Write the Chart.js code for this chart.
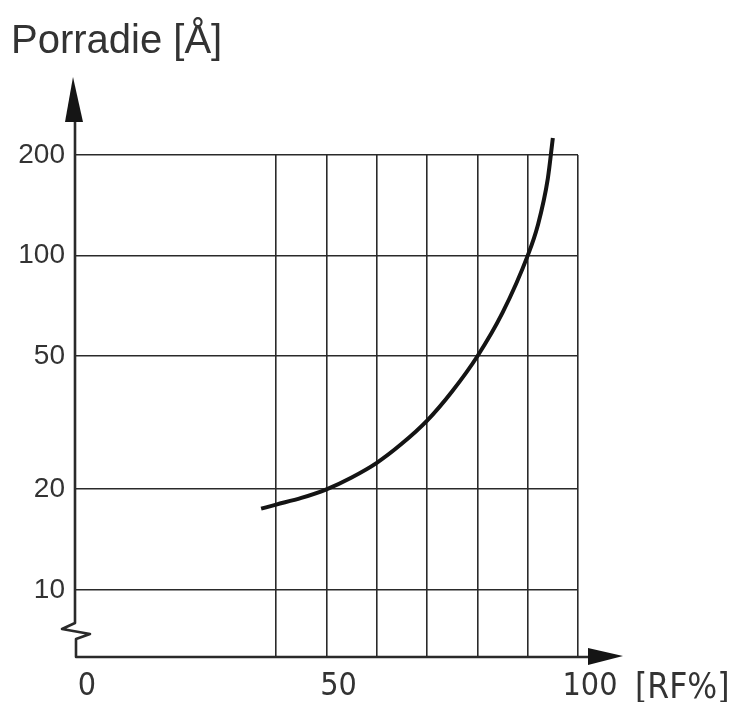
<!DOCTYPE html>
<html><head><meta charset="utf-8">
<script src="https://cdn.jsdelivr.net/npm/chart.js@4"></script>
<style>html,body{margin:0;padding:0;background:#fff}#wrap{width:735px;height:702px;position:relative}</style>
</head><body><div id="wrap"><canvas id="c"></canvas></div>
<script>
const rfPercent  = [37, 40, 45, 50, 55, 60, 65, 70, 75, 80, 85, 90, 92, 94, 95];
const poreRadius = [17.5, 18.0, 18.85, 20.0, 21.7, 24.0, 27.4, 32.1, 39.3, 50, 67.5, 100, 123, 170, 225];
const xGridValues = [0, 40, 50, 60, 70, 80, 90, 100];
const xLabelValues = [0, 50, 100];
const yTickValues = [10, 20, 50, 100, 200];
const yAxisTitle = 'Porradie [Å]';
const xAxisTitle = '[RF%]';

const INK = '#2a2a2a';
const NARROW = '"DejaVu Sans Condensed", "Liberation Sans Narrow", "Liberation Sans", sans-serif';

const decor = {
  id: 'decor',
  afterDraw(chart) {
    const {ctx, chartArea: a, scales: {x, y}} = chart;
    const x0 = x.getPixelForValue(0), y0 = a.bottom;
    ctx.save();
    ctx.strokeStyle = INK; ctx.fillStyle = '#151515'; ctx.lineCap = 'round'; ctx.lineJoin = 'round';
    ctx.lineWidth = 2.6;
    // y axis with break, then x axis
    ctx.beginPath(); ctx.moveTo(x0, 105); ctx.lineTo(x0, 623);
    ctx.lineTo(62, 629); ctx.lineTo(90, 634); ctx.lineTo(x0 + 1, 639); ctx.lineTo(x0 + 1, y0);
    ctx.lineTo(600, y0); ctx.stroke();
    // arrow heads
    ctx.beginPath(); ctx.moveTo(x0 - 2, 77); ctx.lineTo(x0 + 8, 122); ctx.lineTo(x0 - 10, 122); ctx.closePath(); ctx.fill();
    ctx.beginPath(); ctx.moveTo(623, y0 - 1); ctx.lineTo(588, y0 - 9); ctx.lineTo(588, y0 + 8); ctx.closePath(); ctx.fill();
    // titles
    ctx.fillStyle = '#333';
    ctx.textAlign = 'left'; ctx.textBaseline = 'alphabetic';
    ctx.font = '40px "Liberation Sans", sans-serif';
    ctx.fillText(yAxisTitle, 11, 53);
    ctx.font = '35px ' + NARROW;
    ctx.fillText(xAxisTitle, 635, 698);
    ctx.restore();
  }
};

new Chart(document.getElementById('c'), {
  type: 'line',
  data: {
    datasets: [{
      data: rfPercent.map((v, i) => ({x: v, y: poreRadius[i]})),
      borderColor: '#141414', borderWidth: 4, pointRadius: 0,
      cubicInterpolationMode: 'monotone', clip: false, fill: false
    }]
  },
  options: {
    responsive: true, maintainAspectRatio: false, animation: false,
    layout: {padding: {top: 155, right: 157, left: 0, bottom: 0}},
    plugins: {legend: {display: false}, tooltip: {enabled: false}, title: {display: false}},
    scales: {
      x: {
        type: 'linear', min: 0, max: 100,
        afterBuildTicks: s => { s.ticks = xGridValues.map(v => ({value: v})); },
        afterFit: s => { s.height = 45; },
        ticks: {
          autoSkip: false, maxRotation: 0, labelOffset: 12, padding: 10,
          color: '#333', font: {family: NARROW, size: 32},
          callback: v => xLabelValues.includes(v) ? String(v) : ''
        },
        grid: {color: c => (c.tick && c.tick.value === 0) ? 'rgba(0,0,0,0)' : INK, lineWidth: 1.6, drawTicks: false},
        border: {display: false}
      },
      y: {
        type: 'logarithmic', min: 6.3, max: 200,
        afterBuildTicks: s => { s.ticks = yTickValues.map(v => ({value: v})); },
        afterFit: s => { s.width = 75; },
        ticks: {
          autoSkip: false, padding: 10, color: '#333',
          font: {family: '"Liberation Sans", sans-serif', size: 28},
          callback: v => yTickValues.includes(v) ? String(v) : ''
        },
        grid: {color: INK, lineWidth: 1.6, drawTicks: false},
        border: {display: false}
      }
    }
  },
  plugins: [decor]
});
</script></body></html>
